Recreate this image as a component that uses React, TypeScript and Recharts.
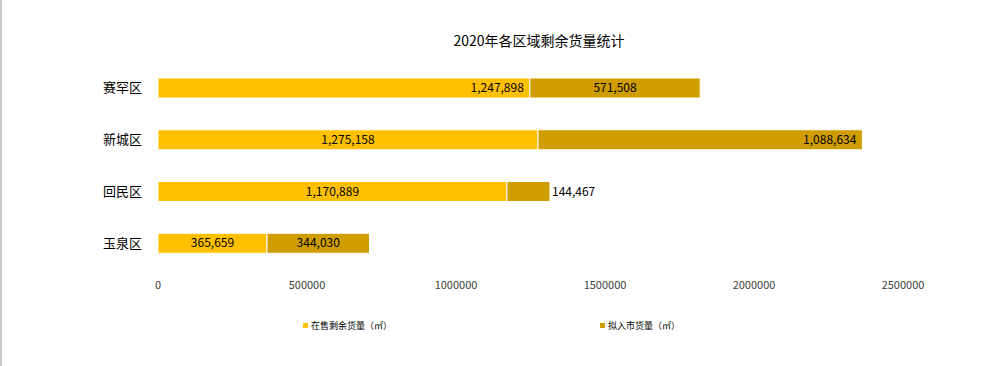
import React from "react";
import { BarChart, Bar, XAxis, YAxis, LabelList } from "recharts";

const districts = ["赛罕区", "新城区", "回民区", "玉泉区"];
const onSale = [1247898, 1275158, 1170889, 365659];
const planned = [571508, 1088634, 144467, 344030];
const xTicks = [0, 500000, 1000000, 1500000, 2000000, 2500000];

const TITLE = "2020年各区域剩余货量统计";
const ON_SALE_NAME = "在售剩余货量（㎡）";
const PLANNED_NAME = "拟入市货量（㎡）";

const YELLOW = "#FFC000";
const GOLD = "#CF9D00";
const FONT = '"Noto Sans CJK SC", "Noto Sans", sans-serif';

// where each data label sits relative to its segment
const onSaleLabelPos = ["insideRight", "center", "center", "center"];
const plannedLabelPos = ["center", "insideRight", "right", "center"];

const rows = districts.map((name, i) => ({
  name,
  onSale: onSale[i],
  planned: planned[i],
}));

function makeLabel(positions: string[]) {
  return (props: any) => {
    const { x, y, width, height, value, index } = props;
    const pos = positions[index] || "center";
    let tx = x + width / 2;
    let anchor: "start" | "middle" | "end" = "middle";
    if (pos === "insideRight") {
      tx = x + width - 6;
      anchor = "end";
    } else if (pos === "right") {
      tx = x + width + 2;
      anchor = "start";
    }
    return (
      <text
        x={tx}
        y={y + height / 2}
        dy={4}
        textAnchor={anchor}
        fontSize={12}
        fontFamily={FONT}
        fill="#000"
      >
        {Number(value).toLocaleString("en-US")}
      </text>
    );
  };
}

export default function App() {
  return (
    <div
      style={{
        position: "absolute",
        left: 0,
        top: 0,
        width: 983,
        height: 366,
        background: "#fff",
        borderLeft: "2px solid #c8c8c8",
        boxSizing: "border-box",
        fontFamily: FONT,
        overflow: "hidden",
      }}
    >
      <div
        style={{
          position: "absolute",
          top: 30,
          left: 0,
          width: 1074,
          textAlign: "center",
          fontSize: 14,
          color: "#000",
        }}
      >
        {TITLE}
      </div>
      <div style={{ position: "absolute", left: -2, top: 0 }}>
        <BarChart
          width={983}
          height={366}
          data={rows}
          layout="vertical"
          margin={{ top: 62, right: 80, bottom: 67, left: 0 }}
          barSize={20}
        >
          <XAxis
            type="number"
            domain={[0, 2500000]}
            ticks={xTicks}
            axisLine={false}
            tickLine={false}
            height={30}
            tick={{ fontSize: 11, fill: "#404040", fontFamily: FONT }}
            tickMargin={6}
          />
          <YAxis
            type="category"
            dataKey="name"
            width={158}
            axisLine={false}
            tickLine={false}
            tickMargin={10}
            tick={{ fontSize: 13, fill: "#000", fontFamily: FONT }}
          />
          <Bar
            dataKey="onSale"
            name={ON_SALE_NAME}
            stackId="a"
            fill={YELLOW}
            stroke="#fff"
            strokeWidth={1}
            isAnimationActive={false}
          >
            <LabelList dataKey="onSale" content={makeLabel(onSaleLabelPos)} />
          </Bar>
          <Bar
            dataKey="planned"
            name={PLANNED_NAME}
            stackId="a"
            fill={GOLD}
            stroke="#fff"
            strokeWidth={1}
            isAnimationActive={false}
          >
            <LabelList dataKey="planned" content={makeLabel(plannedLabelPos)} />
          </Bar>
        </BarChart>
      </div>
      <div
        style={{
          position: "absolute",
          top: 319,
          left: 301,
          display: "flex",
          fontSize: 9,
          color: "#000",
        }}
      >
        {[
          { name: ON_SALE_NAME, color: YELLOW },
          { name: PLANNED_NAME, color: GOLD },
        ].map((item) => (
          <div key={item.name} style={{ width: 297, display: "flex", alignItems: "center" }}>
            <span
              style={{
                display: "inline-block",
                width: 5,
                height: 5,
                background: item.color,
                marginRight: 3,
              }}
            />
            <span>{item.name}</span>
          </div>
        ))}
      </div>
    </div>
  );
}
